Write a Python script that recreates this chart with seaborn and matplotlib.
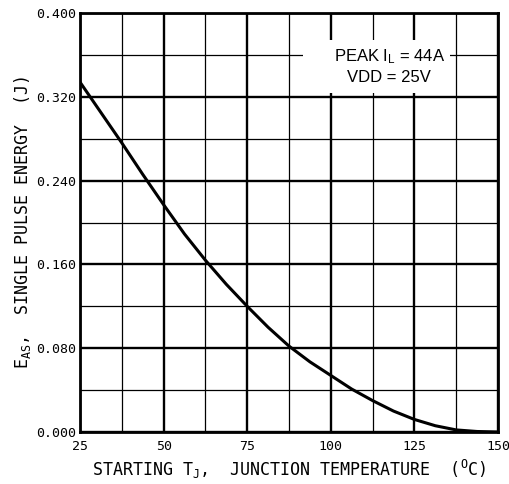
import matplotlib
matplotlib.use("Agg")
import matplotlib.pyplot as plt
import matplotlib.patches as mpatches
from matplotlib.ticker import MultipleLocator, FormatStrFormatter
import seaborn as sns
import pandas as pd

# --- datos (Tj en C, energia en J) ---
tj = [25, 31.25, 37.5, 43.75, 50, 56.25, 62.5, 68.75, 75, 81.25, 87.5,
      93.75, 100, 106.25, 112.5, 118.75, 125, 131.25, 137.5, 143.75, 150]
eas = [0.334, 0.305, 0.276, 0.246, 0.217, 0.189, 0.164, 0.141, 0.120, 0.100, 0.082,
       0.067, 0.054, 0.041, 0.030, 0.020, 0.012, 0.006, 0.002, 0.0005, 0.0]

x_ticks = [25, 50, 75, 100, 125, 150]
y_ticks = [0.000, 0.080, 0.160, 0.240, 0.320, 0.400]
note_lines = ["PEAK I$\\mathsf{_L}$ = 44A", "VDD = 25V"]

df = pd.DataFrame({"tj": tj, "eas": eas})

# --- estilo ---
sns.set_style("white")
plt.rcParams["font.family"] = ["DejaVu Sans Mono", "DejaVu Sans"]
plt.rcParams["text.color"] = "black"
plt.rcParams["axes.labelcolor"] = "black"
plt.rcParams["mathtext.fontset"] = "custom"
plt.rcParams["mathtext.rm"] = "DejaVu Sans Mono"
plt.rcParams["mathtext.it"] = "DejaVu Sans Mono"
plt.rcParams["mathtext.sf"] = "Liberation Sans"
plt.rcParams["mathtext.default"] = "rm"

fig = plt.figure(figsize=(5.10, 4.84), dpi=100)
ax = fig.add_axes([0.1569, 0.1074, 0.8196, 0.8657])

sns.lineplot(data=df, x="tj", y="eas", color="black", lw=2.2, ax=ax, zorder=3)

ax.set_xlim(x_ticks[0], x_ticks[-1])
ax.set_ylim(y_ticks[0], y_ticks[-1])
ax.set_xticks(x_ticks)
ax.set_yticks(y_ticks)
ax.xaxis.set_minor_locator(MultipleLocator(12.5))
ax.yaxis.set_minor_locator(MultipleLocator(0.04))
ax.yaxis.set_major_formatter(FormatStrFormatter("%.3f"))

ax.set_axisbelow(True)
ax.grid(which="major", color="black", lw=1.7)
ax.grid(which="minor", color="black", lw=0.9)
for s in ax.spines.values():
    s.set_linewidth(2.0)
    s.set_color("black")

ax.tick_params(axis="both", which="both", length=0, labelsize=9.5, colors="black")
ax.tick_params(axis="y", pad=3)
ax.tick_params(axis="x", pad=6)

ax.set_xlabel("STARTING T$_J$,  JUNCTION TEMPERATURE  ($^O$C)", fontsize=12, labelpad=3)
ax.set_ylabel("E$_{AS}$,  SINGLE PULSE ENERGY  (J)", fontsize=12, labelpad=2)

# recuadro blanco de la nota
ax.add_patch(mpatches.Rectangle((0.533, 0.809), 0.352, 0.127, transform=ax.transAxes,
                                facecolor="white", edgecolor="none", zorder=2))
ax.text(0.740, 0.896, note_lines[0], transform=ax.transAxes, ha="center", va="center",
        fontsize=12, family=["Liberation Sans Narrow", "Liberation Sans"], zorder=4)
ax.text(0.740, 0.846, note_lines[1], transform=ax.transAxes, ha="center", va="center",
        fontsize=12, family=["Liberation Sans Narrow", "Liberation Sans"], zorder=4)

fig.savefig("out.png", dpi=100)
